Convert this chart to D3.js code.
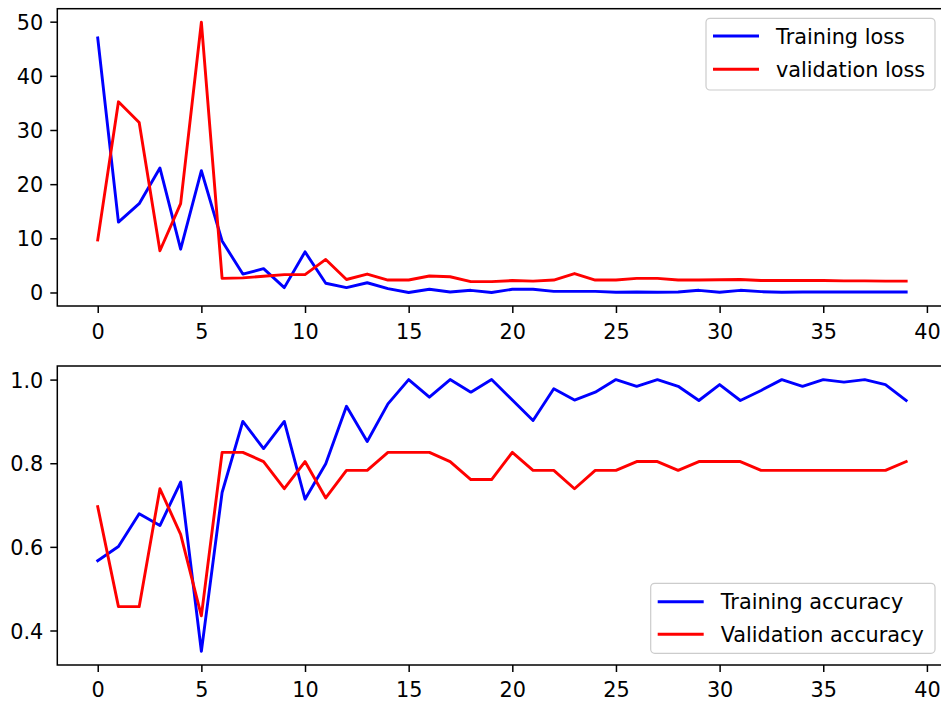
<!DOCTYPE html>
<html>
<head>
<meta charset="utf-8">
<script src="https://cdn.jsdelivr.net/npm/d3@7"></script>
<style>
  html, body { margin: 0; padding: 0; background: #fff; overflow: hidden; }
  svg { display: block; }
  text { font-family: "DejaVu Sans", sans-serif; fill: #000; }
</style>
</head>
<body>
<svg id="chart" width="941" height="702"></svg>
<script>
// Epoch index 0..39
const epochs = d3.range(40);

const trainLoss = [47.0, 13.0, 16.4, 23.0, 8.0, 22.5, 9.5, 3.4, 4.4, 0.9,
                   7.5, 1.7, 0.9, 1.8, 0.7, 0.0, 0.6, 0.1, 0.4, 0.0,
                   0.6, 0.6, 0.2, 0.2, 0.2, 0.05, 0.1, 0.05, 0.1, 0.4,
                   0.05, 0.4, 0.15, 0.05, 0.1, 0.1, 0.1, 0.08, 0.1, 0.1];
const valLoss = [9.7, 35.2, 31.4, 7.7, 16.4, 49.9, 2.6, 2.7, 3.0, 3.3,
                 3.3, 6.1, 2.4, 3.4, 2.3, 2.3, 3.05, 2.9, 2.0, 2.0,
                 2.2, 2.1, 2.3, 3.5, 2.3, 2.3, 2.6, 2.6, 2.3, 2.3,
                 2.35, 2.4, 2.2, 2.2, 2.2, 2.2, 2.15, 2.15, 2.1, 2.1];
const trainAcc = [0.567, 0.601, 0.679, 0.651, 0.755, 0.350, 0.730, 0.900, 0.835, 0.900,
                  0.714, 0.799, 0.936, 0.852, 0.942, 1.0, 0.958, 1.0, 0.970, 1.0,
                  0.951, 0.902, 0.978, 0.951, 0.970, 1.0, 0.984, 1.0, 0.984, 0.950,
                  0.988, 0.950, 0.974, 1.0, 0.984, 1.0, 0.994, 1.0, 0.988, 0.950];
const valAcc = [0.696, 0.457, 0.457, 0.739, 0.630, 0.435, 0.826, 0.826, 0.804, 0.739,
                0.804, 0.717, 0.783, 0.783, 0.826, 0.826, 0.826, 0.804, 0.761, 0.761,
                0.826, 0.783, 0.783, 0.739, 0.783, 0.783, 0.804, 0.804, 0.783, 0.804,
                0.804, 0.804, 0.783, 0.783, 0.783, 0.783, 0.783, 0.783, 0.783, 0.804];

const xTicks = [0, 5, 10, 15, 20, 25, 30, 35, 40];
const lossTicks = [0, 10, 20, 30, 40, 50];
const accTicks = [0.4, 0.6, 0.8, 1.0];

const lossLegend = ["Training loss", "validation loss"];
const accLegend = ["Training accuracy", "Validation accuracy"];

const BLUE = "#0000ff", RED = "#ff0000";
const FONT = 20.8;

const svg = d3.select("#chart");

// Pad a data extent by 5% on each side
function padded(ext) {
  const span = ext[1] - ext[0];
  return [ext[0] - 0.05 * span, ext[1] + 0.05 * span];
}

const xDomain = padded([0, 39]);

function panel(opts) {
  const { left, right, top, bottom, series, yTicks, yFormat, legend, labelBaseline } = opts;
  const g = svg.append("g");

  const all = series.flatMap(s => s.values);
  const x = d3.scaleLinear().domain(xDomain).range([left, right]);
  const y = d3.scaleLinear().domain(padded(d3.extent(all))).range([bottom, top]);

  // Series lines
  const line = d3.line().x((d, i) => x(epochs[i])).y(d => y(d));
  series.forEach(s => {
    g.append("path")
      .datum(s.values)
      .attr("fill", "none")
      .attr("stroke", s.color)
      .attr("stroke-width", 2.9)
      .attr("stroke-linejoin", "round")
      .attr("stroke-linecap", "square")
      .attr("d", line);
  });

  // Bottom axis
  const xAxis = d3.axisBottom(x).tickValues(xTicks).tickSize(7).tickPadding(0).tickFormat(d3.format("d"));
  const gx = g.append("g").attr("transform", `translate(0,${bottom})`).call(xAxis);
  gx.select(".domain").remove();
  gx.selectAll(".tick line").attr("stroke", "#000").attr("stroke-width", 1.5);
  gx.selectAll(".tick text")
    .attr("y", labelBaseline - bottom)
    .attr("dy", null)
    .style("font-size", FONT + "px")
    .style("font-family", "DejaVu Sans");

  // Left axis
  const yAxis = d3.axisLeft(y).tickValues(yTicks).tickSize(7).tickPadding(7).tickFormat(yFormat);
  const gy = g.append("g").attr("transform", `translate(${left},0)`).call(yAxis);
  gy.select(".domain").remove();
  gy.selectAll(".tick line").attr("stroke", "#000").attr("stroke-width", 1.5);
  gy.selectAll(".tick text")
    .attr("dy", "0.36em")
    .style("font-size", FONT + "px")
    .style("font-family", "DejaVu Sans");

  // Axes frame
  g.append("rect")
    .attr("x", left).attr("y", top)
    .attr("width", right - left).attr("height", bottom - top)
    .attr("fill", "none").attr("stroke", "#000").attr("stroke-width", 1.5);

  // Legend
  const lg = g.append("g");
  lg.append("rect")
    .attr("x", legend.x).attr("y", legend.y)
    .attr("width", legend.w).attr("height", legend.h)
    .attr("rx", 4).attr("ry", 4)
    .attr("fill", "rgba(255,255,255,0.8)")
    .attr("stroke", "#cccccc").attr("stroke-width", 1.2);
  series.forEach((s, i) => {
    const ly = legend.rowY[i];
    lg.append("line")
      .attr("x1", legend.x + 7).attr("x2", legend.x + 53)
      .attr("y1", ly).attr("y2", ly)
      .attr("stroke", s.color).attr("stroke-width", 2.9)
      .attr("stroke-linecap", "butt");
    lg.append("text")
      .attr("x", legend.x + 70).attr("y", ly + 7.5)
      .style("font-size", FONT + "px")
      .text(s.label);
  });
}

panel({
  left: 57.3, right: 946.6, top: 8.7, bottom: 306,
  series: [
    { values: trainLoss, color: BLUE, label: lossLegend[0] },
    { values: valLoss, color: RED, label: lossLegend[1] }
  ],
  yTicks: lossTicks,
  yFormat: d3.format("d"),
  labelBaseline: 338.8,
  legend: { x: 706, y: 18.3, w: 229, h: 71.7, rowY: [36, 69.3] }
});

panel({
  left: 57.3, right: 946.6, top: 366, bottom: 665,
  series: [
    { values: trainAcc, color: BLUE, label: accLegend[0] },
    { values: valAcc, color: RED, label: accLegend[1] }
  ],
  yTicks: accTicks,
  yFormat: d3.format(".1f"),
  labelBaseline: 697,
  legend: { x: 650.7, y: 583.3, w: 284.3, h: 70, rowY: [601.7, 634.3] }
});
</script>
</body>
</html>
